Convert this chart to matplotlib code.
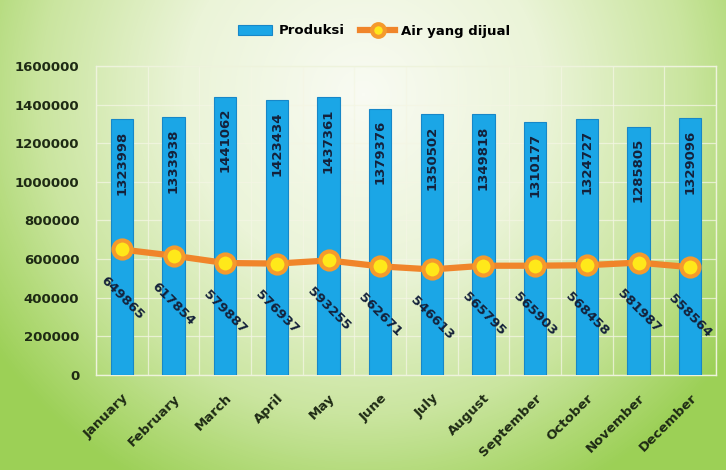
import numpy as np
import matplotlib
matplotlib.use("Agg")
import matplotlib.pyplot as plt
from matplotlib.colors import LinearSegmentedColormap

months = ["January", "February", "March", "April", "May", "June", "July",
          "August", "September", "October", "November", "December"]
produksi = [1323998, 1333938, 1441062, 1423434, 1437361, 1379376, 1350502,
            1349818, 1310177, 1324727, 1285805, 1329096]
air_dijual = [649865, 617854, 579887, 576937, 593255, 562671, 546613,
              565795, 565903, 568458, 581987, 558564]
yticks = [0, 200000, 400000, 600000, 800000, 1000000, 1200000, 1400000, 1600000]

W, H = 726, 470
fig = plt.figure(figsize=(W / 100, H / 100), dpi=100)

# background gradient
bg = fig.add_axes([0, 0, 1, 1], zorder=-10)
bg.set_axis_off()
yy, xx = np.mgrid[0:H, 0:W]
cx, cy = W * 0.5, H * 0.2
d = np.sqrt(((xx - cx) / (W * 0.62)) ** 2 + ((yy - cy) / (H * 0.95)) ** 2)
d = np.clip(d, 0, 1)
cmap = LinearSegmentedColormap.from_list(
    "g", [(0, "#f9fbf3"), (0.4, "#ebf4d8"), (0.72, "#cae59f"), (1.0, "#9cd056")])
bg.imshow(d, cmap=cmap, aspect="auto", extent=[0, 1, 0, 1], origin="upper",
          vmin=0, vmax=1)
bg.set_xlim(0, 1)
bg.set_ylim(0, 1)

# main axes: left 96px, right 716px, top 66px, bottom 375px
ax = fig.add_axes([96 / W, (H - 375) / H, (716 - 96) / W, (375 - 66) / H])
ax.set_facecolor("none")
x = np.arange(len(months))

bars = ax.bar(x, produksi, width=0.43, color="#1ba6e6", edgecolor="#1787c8",
              linewidth=0.8, zorder=3, label="Produksi")
ax.plot(x, air_dijual, color="#f0852a", lw=4.5, marker="o", markersize=13,
        markerfacecolor="#ffe81a", markeredgecolor="#f59a2c", markeredgewidth=3,
        zorder=5, label="Air yang dijual")

for xi, v in zip(x, produksi):
    ax.annotate(f"{v}", (xi, v), xytext=(0, -8), textcoords="offset points",
                rotation=90, ha="center", va="top", fontsize=9.5,
                fontweight="bold", color="#14213a", zorder=6)
for xi, v in zip(x, air_dijual):
    ax.annotate(f"{v}", (xi, v), xytext=(0, -35), textcoords="offset points",
                rotation=-45, ha="center", va="center", fontsize=9.5,
                fontweight="bold", color="#14213a", zorder=6,
                rotation_mode="anchor")

ax.set_xlim(-0.5, len(months) - 0.5)
ax.set_ylim(0, 1600000)
ax.set_yticks(yticks)
ax.set_yticklabels([str(t) for t in yticks], fontsize=9.5, fontweight="bold",
                   color="#1e2a14")
ax.set_xticks(x)
ax.set_xticklabels(months, rotation=45, ha="right", rotation_mode="anchor",
                   fontsize=9.5, fontweight="bold", color="#1e2a14")
ax.tick_params(axis="both", length=0)
ax.tick_params(axis="y", pad=12)
ax.tick_params(axis="x", pad=12)

ax.grid(axis="y", color="#f4f6e4", lw=0.9, alpha=0.75, zorder=0)
ax.set_xticks(np.arange(-0.5, len(months)), minor=True)
ax.grid(axis="x", which="minor", color="#f4f6e4", lw=0.9, alpha=0.75, zorder=0)
ax.tick_params(axis="x", which="minor", length=0)
for s in ax.spines.values():
    s.set_color("#eef3dc")
    s.set_linewidth(1)

fig.legend(handles=[bars, ax.lines[0]], labels=["Produksi", "Air yang dijual"],
           loc="center", bbox_to_anchor=(374 / W, 1 - 31 / H), ncol=2,
           frameon=False, prop={"weight": "bold", "size": 9.5},
           handlelength=2.6, columnspacing=1.2, handletextpad=0.5,
           markerscale=0.7)

fig.savefig("out.png", dpi=100)
